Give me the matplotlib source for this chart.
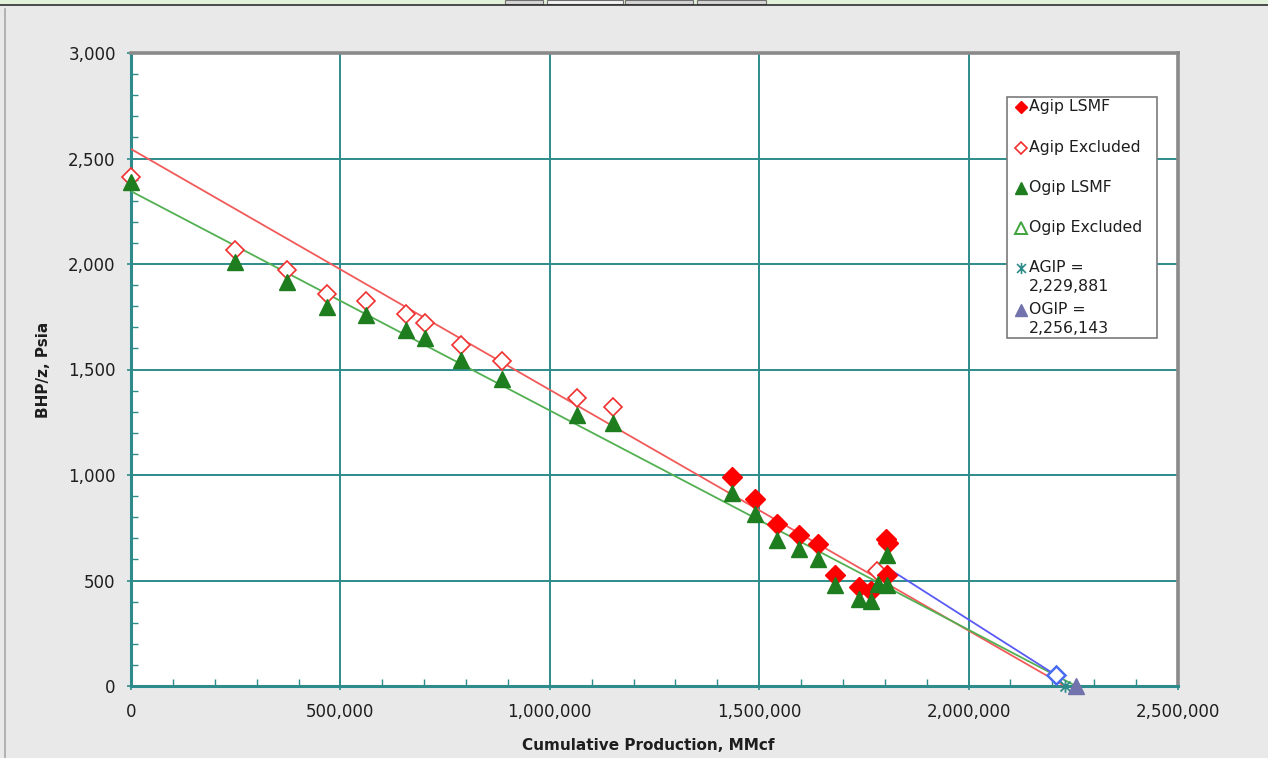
import matplotlib
matplotlib.use('Agg')
import matplotlib.pyplot as plt
from matplotlib.path import Path
from matplotlib.patches import Rectangle
from matplotlib.lines import Line2D
from matplotlib.ticker import FuncFormatter, MultipleLocator

# P/z material balance: cumulative production (MMcf) vs BHP/z (psia)
excl_cum = [0, 248000, 372000, 467000, 560000, 656000, 703000, 789000,
            885000, 1064000, 1150000, 1781000]
agip_excl_pz = [2413, 2067, 1972, 1857, 1823, 1763, 1720, 1618,
                1539, 1366, 1322, 545]

agip_lsmf_cum = [1434000, 1491000, 1543000, 1595000, 1640000, 1681000,
                 1738000, 1768000, 1803000, 1808000, 1805000]
agip_lsmf_pz = [992, 884, 766, 714, 671, 528, 468, 449, 695, 680, 528]

ogip_lsmf_cum = [0, 248000, 372000, 467000, 560000, 656000, 703000, 789000,
                 885000, 1064000, 1150000, 1434000, 1491000, 1543000,
                 1595000, 1640000, 1681000, 1738000, 1768000, 1783000,
                 1805000, 1805000]
ogip_lsmf_pz = [2390, 2009, 1917, 1796, 1757, 1689, 1650, 1543, 1456,
                1284, 1248, 916, 813, 690, 647, 603, 481, 413, 402, 485,
                623, 478]

# straight-line fits: intercept at zero production, gas in place at p/z = 0
agip_intercept = 2545
ogip_intercept = 2345
agip_value = 2229881
ogip_value = 2256143

# projection from the last point
proj_cum = [1806000, 2208000]
proj_pz = [560, 52]

legend_labels = ['Agip LSMF', 'Agip Excluded', 'Ogip LSMF', 'Ogip Excluded',
                 'AGIP =\n{:,}'.format(agip_value),
                 'OGIP =\n{:,}'.format(ogip_value)]

W, H = 1268, 758
bg = '#E9E9E9'
teal = '#2E8B8B'
red = '#FF0000'
green = '#1E7D1E'
light_green = '#3DA33D'
purple = '#7272AC'
text_col = '#1E1E1E'

plt.rcParams['font.family'] = ['DejaVu Sans']

fig = plt.figure(figsize=(W / 100, H / 100), dpi=100, facecolor=bg)


def fpx(x, y):
    """pixel position -> figure fraction"""
    return x / W, 1 - y / H


# window chrome along the top edge
fig.patches.append(Rectangle(fpx(0, 4), 1, 4 / H, transform=fig.transFigure,
                             facecolor='#E2F1DA', edgecolor='none'))
for x0, x1, fc in [(505, 543, '#D6D6D6'), (547, 623, '#F4F4F4'),
                   (625, 693, '#D6D6D6'), (697, 766, '#D6D6D6')]:
    fig.patches.append(Rectangle(fpx(x0, 4), (x1 - x0) / W, 4 / H,
                                 transform=fig.transFigure, facecolor=fc,
                                 edgecolor='#707070', linewidth=0.8))
fig.add_artist(Line2D([0, 1], [1 - 4.5 / H] * 2, transform=fig.transFigure,
                      color='#303030', linewidth=1.2))
fig.add_artist(Line2D([4.5 / W] * 2, [0, 1 - 9 / H], transform=fig.transFigure,
                      color='#A8A8A8', linewidth=1.2))

ax = fig.add_axes([131 / W, 1 - 686 / H, 1047 / W, 633 / H])
ax.set_facecolor('white')

# fitted lines
x_a = [0, agip_value]
ax.plot(x_a, [agip_intercept, 0], color='#F25A5A', linewidth=1.3, zorder=3)
x_o = [0, ogip_value]
ax.plot(x_o, [ogip_intercept, 0], color='#52B052', linewidth=1.3, zorder=3)
ax.plot(proj_cum, proj_pz, color='#5A5AF5', linewidth=1.3, zorder=3)
ax.plot(proj_cum[-1], proj_pz[-1], linestyle='none', marker='D',
        markersize=9, markerfacecolor='white', markeredgecolor='#4A6CF0',
        markeredgewidth=1.8, zorder=6)

# data points
ax.plot(excl_cum, agip_excl_pz, linestyle='none', marker='D', markersize=9,
        markerfacecolor='white', markeredgecolor='#F03030',
        markeredgewidth=1.2, zorder=4, clip_on=False)
ax.plot(agip_lsmf_cum, agip_lsmf_pz, linestyle='none', marker='D',
        markersize=10.5, color=red, zorder=4)
ax.plot(ogip_lsmf_cum, ogip_lsmf_pz, linestyle='none', marker='^',
        markersize=11.5, color=green, zorder=5, clip_on=False)

star = Path([(-1, -1), (1, 1), (-1, 1), (1, -1), (0, -1.25), (0, 1.25)],
            [Path.MOVETO, Path.LINETO] * 3)
ax.plot(agip_value, 0, linestyle='none', marker=star, markersize=9,
        markeredgecolor=teal, markeredgewidth=1.3, zorder=6, clip_on=False)
ax.plot(ogip_value, 0, linestyle='none', marker='^', markersize=11,
        color=purple, zorder=6, clip_on=False)

ax.set_xlim(0, 2500000)
ax.set_ylim(0, 3000)
ax.xaxis.set_major_locator(MultipleLocator(500000))
ax.xaxis.set_minor_locator(MultipleLocator(100000))
ax.yaxis.set_major_locator(MultipleLocator(500))
ax.yaxis.set_minor_locator(MultipleLocator(100))
fmt = FuncFormatter(lambda v, p: '{:,.0f}'.format(v))
ax.xaxis.set_major_formatter(fmt)
ax.yaxis.set_major_formatter(fmt)

ax.grid(True, which='major', color=teal, linewidth=1.4, zorder=1)
ax.set_axisbelow(True)
ax.tick_params(which='major', direction='out', length=3, width=1.2,
               color=teal, labelsize=12, labelcolor=text_col)
ax.tick_params(axis='x', which='major', pad=9)
ax.tick_params(axis='y', which='major', pad=8)
ax.tick_params(which='minor', direction='in', length=5, width=1, color=teal)

for side in ['left', 'bottom']:
    ax.spines[side].set_color(teal)
    ax.spines[side].set_linewidth(2.2)
for side in ['top', 'right']:
    ax.spines[side].set_color('#8A8A8A')
    ax.spines[side].set_linewidth(2.6)

fig.text(*fpx(648, 746), 'Cumulative Production, MMcf', ha='center',
         va='center', fontsize=11, fontweight='bold', color=text_col)
fig.text(*fpx(43, 370), 'BHP/z, Psia', ha='center', va='center',
         rotation=90, fontsize=11, fontweight='bold', color=text_col)

# legend box drawn in figure pixels
lx0, lx1, ly0, ly1 = 1007, 1157, 97, 338
fig.patches.append(Rectangle(fpx(lx0, ly1), (lx1 - lx0) / W, (ly1 - ly0) / H,
                             transform=fig.transFigure, facecolor='white',
                             edgecolor='#7A7A7A', linewidth=1.2, zorder=10))
legend_styles = [
    dict(marker='D', markersize=6, color=red),
    dict(marker='D', markersize=6, markerfacecolor='white',
         markeredgecolor='#F03030', markeredgewidth=1.2),
    dict(marker='^', markersize=9, color=green),
    dict(marker='^', markersize=9, markerfacecolor='white',
         markeredgecolor=light_green, markeredgewidth=1.4),
    dict(marker=star, markersize=8, markeredgecolor=teal,
         markeredgewidth=1.2),
    dict(marker='^', markersize=9, color=purple),
]
marker_y = [107, 148, 188, 228, 268, 310]
for label, style, my in zip(legend_labels, legend_styles, marker_y):
    fig.add_artist(Line2D([1021 / W], [1 - my / H], linestyle='none',
                          transform=fig.transFigure, zorder=11, **style))
    fig.text(1029 / W, 1 - (my - 8) / H, label, ha='left', va='top',
             fontsize=11.3, color=text_col, linespacing=1.35, zorder=11)

fig.savefig('out.png', dpi=100, facecolor=bg)
